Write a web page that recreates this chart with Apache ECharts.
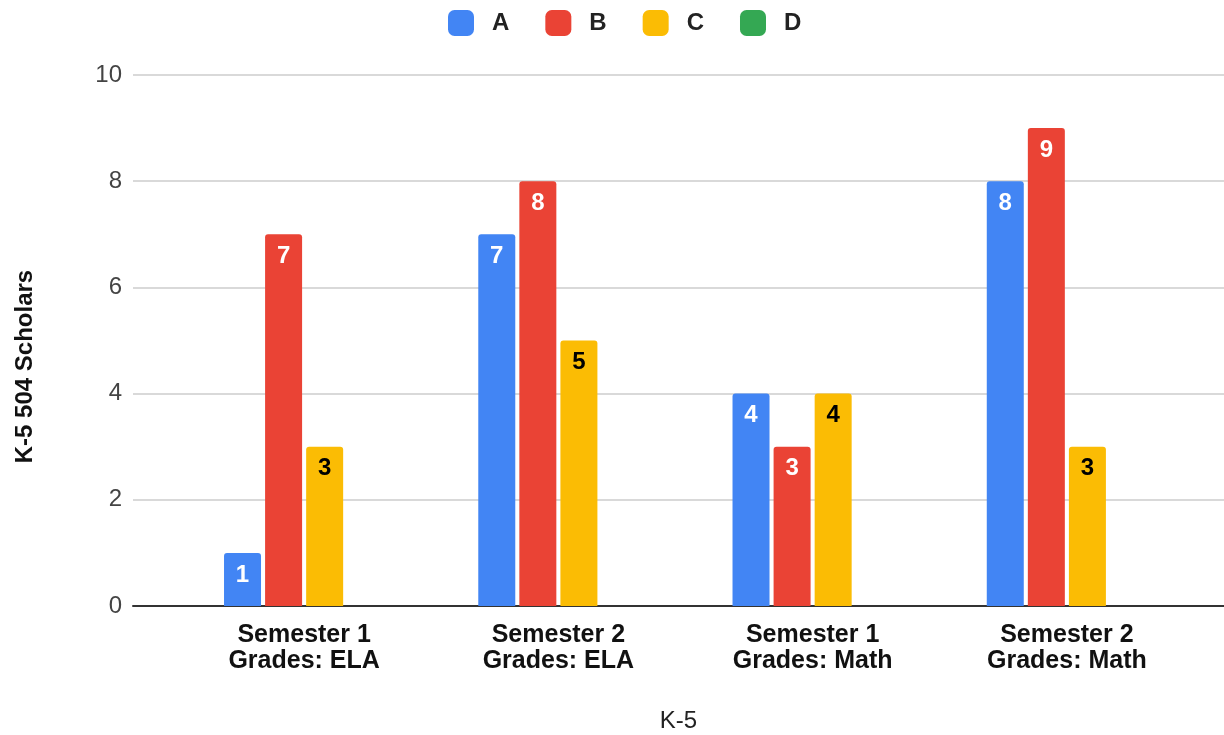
<!DOCTYPE html>
<html>
<head>
<meta charset="utf-8">
<script src="https://cdn.jsdelivr.net/npm/echarts@6/dist/echarts.min.js"></script>
<style>html,body{margin:0;padding:0;background:#fff}#c{width:1224px;height:735px}</style>
</head>
<body>
<div id="c"></div>
<script>
const categories = ['Semester 1\nGrades: ELA', 'Semester 2\nGrades: ELA', 'Semester 1\nGrades: Math', 'Semester 2\nGrades: Math'];
const seriesNames = ['A', 'B', 'C', 'D'];
const valuesA = [1, 7, 4, 8];
const valuesB = [7, 8, 3, 9];
const valuesC = [3, 5, 4, 3];
const valuesD = [0, 0, 0, 0];
const yTicks = [0, 2, 4, 6, 8, 10];
const colors = ['#4285f4', '#ea4335', '#fbbc04', '#34a853'];
const labelColors = ['#ffffff', '#ffffff', '#000000', '#000000'];
const allValues = [valuesA, valuesB, valuesC, valuesD];

const FONT = '"Liberation Sans", Arial, sans-serif';
const chart = echarts.init(document.getElementById('c'));

const series = seriesNames.map((n, i) => ({
  name: n,
  type: 'bar',
  xAxisIndex: 1,
  yAxisIndex: 1,
  data: allValues[i],
  barWidth: 37,
  barGap: '11%',
  itemStyle: { color: colors[i], borderRadius: [3, 3, 0, 0] },
  label: {
    show: i < 3,
    position: 'insideTop',
    distance: 10,
    color: labelColors[i],
    fontFamily: FONT,
    fontWeight: 'bold',
    fontSize: 24
  }
}));

chart.setOption({
  animation: false,
  color: colors,
  legend: {
    top: 10,
    left: 448,
    padding: 0,
    itemWidth: 26,
    itemHeight: 26,
    itemGap: 36,
    icon: 'roundRect',
    textStyle: { fontFamily: FONT, fontWeight: 'bold', fontSize: 24, color: '#222', padding: [0, 0, 0, 13] },
    data: seriesNames
  },
  grid: [
    { left: 133, right: 0, top: 75, bottom: 129, outerBoundsMode: 'none', containLabel: false },
    { left: 177, right: 30, top: 75, bottom: 129, outerBoundsMode: 'none', containLabel: false }
  ],
  xAxis: [
    {
      gridIndex: 0, type: 'category', data: [''],
      axisLine: { show: true, lineStyle: { color: '#333', width: 2 } },
      axisTick: { show: false }, axisLabel: { show: false },
      name: 'K-5', nameLocation: 'middle', nameGap: 103,
      nameTextStyle: { fontFamily: FONT, fontSize: 24, color: '#222' }
    },
    {
      gridIndex: 1, type: 'category', data: categories,
      axisLine: { show: false }, axisTick: { show: false },
      axisLabel: { fontFamily: FONT, fontWeight: 'bold', fontSize: 25, color: '#111', lineHeight: 26, margin: 16 }
    }
  ],
  yAxis: [
    {
      gridIndex: 0, type: 'value', min: yTicks[0], max: yTicks[yTicks.length - 1], interval: 2,
      axisLine: { show: false }, axisTick: { show: false },
      axisLabel: { fontFamily: FONT, fontSize: 24, color: '#444', margin: 11 },
      splitLine: { lineStyle: { color: '#cccccc', width: 1.5 } },
      name: 'K-5 504 Scholars', nameLocation: 'middle', nameGap: 96,
      nameTextStyle: { fontFamily: FONT, fontWeight: 'bold', fontSize: 24, color: '#111', padding: [0, 52, 0, 0] }
    },
    {
      gridIndex: 1, type: 'value', min: yTicks[0], max: yTicks[yTicks.length - 1], interval: 2,
      axisLine: { show: false }, axisTick: { show: false }, axisLabel: { show: false }, splitLine: { show: false }
    }
  ],
  series: series
});
</script>
</body>
</html>
